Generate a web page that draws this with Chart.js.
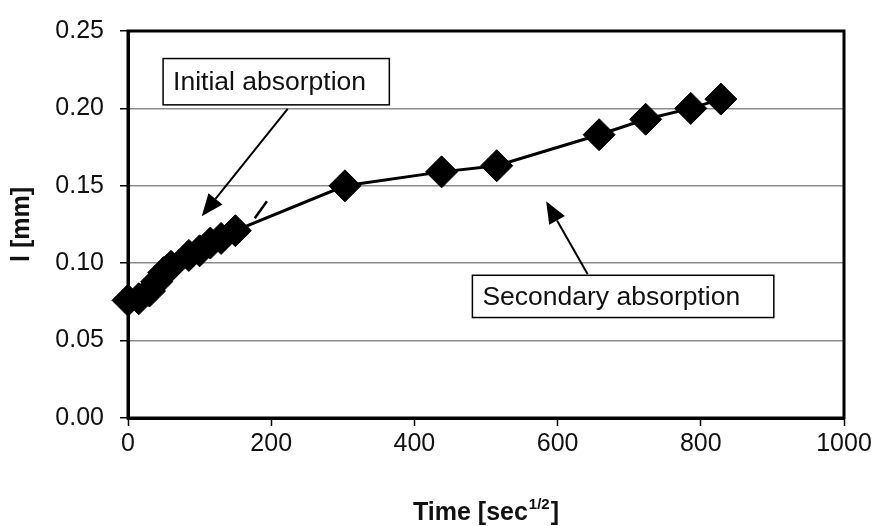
<!DOCTYPE html>
<html>
<head>
<meta charset="utf-8">
<script src="https://cdn.jsdelivr.net/npm/chart.js@4.4.1/dist/chart.umd.min.js"></script>
<style>
  html, body { margin: 0; padding: 0; background: #fff; }
  #wrap { width: 877px; height: 526px; }
</style>
</head>
<body>
<div id="wrap"><canvas id="c" width="877" height="526"></canvas></div>
<script>
// ---- data ----
const timeValues  = [0, 15, 30, 40, 50, 60, 85, 100, 115, 130, 150, 303, 438, 515, 658, 723, 786, 828];
const depthValues = [0.076, 0.077, 0.082, 0.088, 0.094, 0.098, 0.105, 0.108, 0.113, 0.116, 0.121, 0.150, 0.159, 0.163, 0.183, 0.193, 0.200, 0.206];
const xTickValues = [0, 200, 400, 600, 800, 1000];
const yTickValues = [0.00, 0.05, 0.10, 0.15, 0.20, 0.25];
const xTitleMain = 'Time [sec';
const xTitleSup = '1/2';
const xTitleEnd = ']';
const yTitle = 'l [mm]';
const labelInitial = 'Initial absorption';
const labelSecondary = 'Secondary absorption';
// annotation anchors in data units
const boxInitial   = { x0: 49, x1: 365, y0: 0.2322, y1: 0.2023 };
const arrowInitial = { x0: 223, y0: 0.1997, x1: 103, y1: 0.1304 };
const boxSecondary = { x0: 481, x1: 902, y0: 0.0922, y1: 0.0649 };
const arrowSecondary = { x0: 642, y0: 0.0929, x1: 584, y1: 0.140 };
const strayMark = { x0: 177, y0: 0.129, x1: 194, y1: 0.140 };

const FONT = '"Liberation Sans", Arial, sans-serif';

const points = timeValues.map((t, i) => ({ x: t, y: depthValues[i] }));

const decorPlugin = {
  id: 'decor',
  beforeDatasetsDraw(chart) {
    const { ctx, chartArea: a } = chart;
    ctx.save();
    ctx.strokeStyle = '#000';
    ctx.lineWidth = 3;
    ctx.strokeRect(a.left, a.top, a.right - a.left, a.bottom - a.top);
    ctx.restore();
  },
  afterDatasetsDraw(chart) {
    const { ctx, chartArea: a } = chart;
    const xs = chart.scales.x, ys = chart.scales.y;
    const px = v => xs.getPixelForValue(v), py = v => ys.getPixelForValue(v);

    function box(b, text) {
      const x0 = px(b.x0), x1 = px(b.x1), y0 = py(b.y0), y1 = py(b.y1);
      ctx.save();
      ctx.fillStyle = '#fff';
      ctx.fillRect(x0, y0, x1 - x0, y1 - y0);
      ctx.strokeStyle = '#000';
      ctx.lineWidth = 1.5;
      ctx.strokeRect(x0, y0, x1 - x0, y1 - y0);
      ctx.fillStyle = '#111';
      ctx.font = '26.5px ' + FONT;
      ctx.textBaseline = 'middle';
      ctx.textAlign = 'left';
      ctx.fillText(text, x0 + 10, (y0 + y1) / 2 + 1);
      ctx.restore();
    }
    function arrow(r) {
      const x0 = px(r.x0), y0 = py(r.y0), x1 = px(r.x1), y1 = py(r.y1);
      const ang = Math.atan2(y1 - y0, x1 - x0);
      const L = 22, W = 9;
      const bx = x1 - L * Math.cos(ang), by = y1 - L * Math.sin(ang);
      ctx.save();
      ctx.strokeStyle = '#000';
      ctx.lineWidth = 2;
      ctx.beginPath();
      ctx.moveTo(x0, y0);
      ctx.lineTo(bx, by);
      ctx.stroke();
      ctx.fillStyle = '#000';
      ctx.beginPath();
      ctx.moveTo(x1, y1);
      ctx.lineTo(bx + W * Math.sin(ang), by - W * Math.cos(ang));
      ctx.lineTo(bx - W * Math.sin(ang), by + W * Math.cos(ang));
      ctx.closePath();
      ctx.fill();
      ctx.restore();
    }
    function mark(r) {
      ctx.save();
      ctx.strokeStyle = '#000';
      ctx.lineWidth = 2.5;
      ctx.beginPath();
      ctx.moveTo(px(r.x0), py(r.y0));
      ctx.lineTo(px(r.x1), py(r.y1));
      ctx.stroke();
      ctx.restore();
    }
    mark(strayMark);
    arrow(arrowInitial);
    arrow(arrowSecondary);
    box(boxInitial, labelInitial);
    box(boxSecondary, labelSecondary);

    // axis titles
    ctx.save();
    ctx.fillStyle = '#111';
    ctx.textBaseline = 'alphabetic';
    const cx = (a.left + a.right) / 2;
    ctx.font = 'bold 25px ' + FONT;
    const wMain = ctx.measureText(xTitleMain).width;
    const wEnd = ctx.measureText(xTitleEnd).width;
    ctx.font = 'bold 15px ' + FONT;
    const wSup = ctx.measureText(xTitleSup).width;
    let x = cx - (wMain + wSup + wEnd + 2) / 2;
    const base = 520;
    ctx.font = 'bold 25px ' + FONT;
    ctx.textAlign = 'left';
    ctx.fillText(xTitleMain, x, base);
    x += wMain + 1;
    ctx.font = 'bold 15px ' + FONT;
    ctx.fillText(xTitleSup, x, base - 11);
    x += wSup + 1;
    ctx.font = 'bold 25px ' + FONT;
    ctx.fillText(xTitleEnd, x, base);

    ctx.translate(22, (a.top + a.bottom) / 2);
    ctx.rotate(-Math.PI / 2);
    ctx.textAlign = 'center';
    ctx.textBaseline = 'middle';
    ctx.font = 'bold 25px ' + FONT;
    ctx.fillText(yTitle, 0, 0);
    ctx.restore();
  }
};

new Chart(document.getElementById('c'), {
  type: 'scatter',
  data: {
    datasets: [{
      data: points,
      showLine: true,
      borderColor: '#000',
      borderWidth: 3,
      backgroundColor: '#000',
      pointStyle: 'rectRot',
      pointRadius: 16,
      pointBorderWidth: 1,
      pointBackgroundColor: '#000',
      pointBorderColor: '#000',
      tension: 0,
      clip: false
    }]
  },
  options: {
    responsive: false,
    animation: false,
    devicePixelRatio: 1,
    layout: { padding: { left: 0, right: 33, top: 24, bottom: 0 } },
    plugins: { legend: { display: false }, tooltip: { enabled: false } },
    scales: {
      x: {
        type: 'linear',
        min: 0, max: 1000,
        afterBuildTicks: s => { s.ticks = xTickValues.map(v => ({ value: v })); },
        afterFit: s => { s.height = 108; },
        grid: { drawOnChartArea: false, drawTicks: true, tickLength: 8, tickColor: '#000', tickWidth: 1.5 },
        border: { display: true, color: '#000', width: 3 },
        ticks: { color: '#111', font: { family: FONT, size: 25 }, padding: 3, maxRotation: 0, callback: v => String(v) }
      },
      y: {
        type: 'linear',
        min: 0, max: 0.25,
        afterBuildTicks: s => { s.ticks = yTickValues.map(v => ({ value: v })); },
        afterFit: s => { s.width = 128; },
        grid: { color: '#8c8c8c', lineWidth: 1.5, drawTicks: true, tickLength: 8, tickColor: '#000', tickWidth: 1.5 },
        border: { display: true, color: '#000', width: 3 },
        ticks: { color: '#111', font: { family: FONT, size: 25 }, padding: 16, callback: v => v.toFixed(2) }
      }
    }
  },
  plugins: [decorPlugin]
});
</script>
</body>
</html>
